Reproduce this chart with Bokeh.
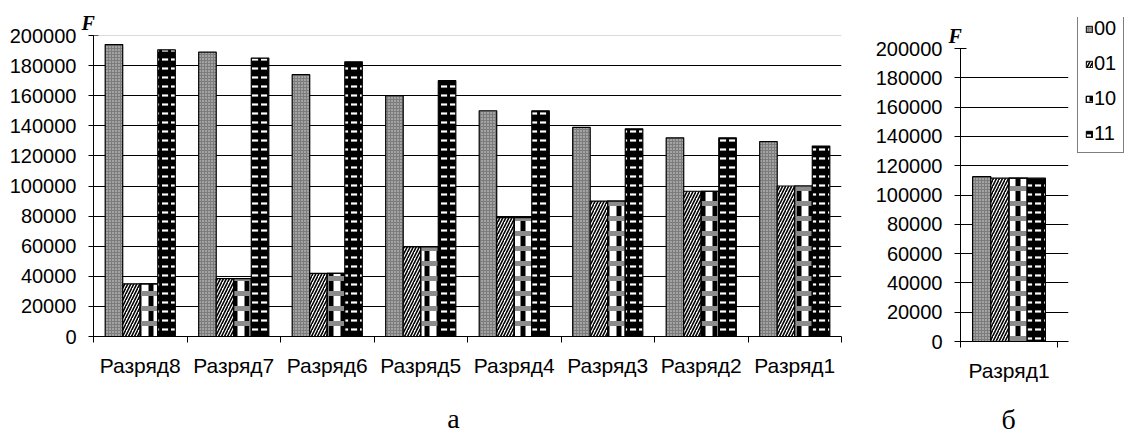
from bokeh.plotting import figure
from bokeh.models import (FixedTicker, Range1d, Legend, LegendItem, Span, Title,
                          NumeralTickFormatter)
from bokeh.core.properties import value
from bokeh.embed import file_html
from bokeh.resources import INLINE

# ---------------- data ----------------
categories = ["Разряд8", "Разряд7", "Разряд6", "Разряд5",
              "Разряд4", "Разряд3", "Разряд2", "Разряд1"]
series_names = ["00", "01", "10", "11"]
s00 = [194000, 189000, 174000, 160000, 150000, 139000, 132000, 129500]
s01 = [35000, 38500, 42000, 59500, 79000, 90000, 96500, 100000]
s10 = [35000, 38500, 42000, 59500, 79000, 90000, 96500, 100000]
s11 = [190500, 185000, 182500, 170000, 150000, 138000, 132000, 126500]

right_categories = ["Разряд1"]
r00 = [112500]
r01 = [111500]
r10 = [111500]
r11 = [111500]

y_ticks = [0, 20000, 40000, 60000, 80000, 100000, 120000, 140000, 160000, 180000, 200000]

# ---------------- styles ----------------
FONT = "Liberation Sans"
SERIF = "Liberation Serif"
BW = 0.1875
OFFS = [-1.5 * BW, -0.5 * BW, 0.5 * BW, 1.5 * BW]

STYLES = {
    "00": [dict(fill_color="#7c7c7c", hatch_pattern="dot", hatch_color="#dddddd",
                hatch_scale=3, hatch_weight=1)],
    "01": [dict(fill_color="white", hatch_pattern="right_diagonal_line", hatch_color="black",
                hatch_scale=6, hatch_weight=1.6)],
    "10": [dict(fill_color="white", hatch_pattern="vertical_line", hatch_color="black",
                hatch_scale=12, hatch_weight=5),
           dict(fill_color=None, hatch_pattern="horizontal_line", hatch_color="#8c8c8c",
                hatch_scale=15, hatch_weight=5)],
    "11": [dict(fill_color="black", hatch_pattern="horizontal_dash", hatch_color="white",
                hatch_scale=9, hatch_weight=2.2)],
}


def draw_bars(p, cats, values, lw=1.2):
    items = []
    for k, (name, vals) in enumerate(zip(series_names, values)):
        xs = [i + 0.5 + OFFS[k] for i in range(len(cats))]
        rs = []
        for st in STYLES[name]:
            r = p.vbar(x=xs, top=vals, bottom=0, width=BW, line_color="black",
                       line_width=lw, **st)
            rs.append(r)
        items.append(LegendItem(label=name, renderers=rs))
    return items


def style_fig(p, cats, tick_len, xstand, ystand):
    n = len(cats)
    p.outline_line_color = None
    p.background_fill_color = "white"
    p.border_fill_color = "white"
    p.xgrid.grid_line_color = None
    p.ygrid.ticker = FixedTicker(ticks=y_ticks[1:-1])
    p.ygrid.grid_line_color = "black"
    p.ygrid.grid_line_width = 1

    xa = p.xaxis[0]
    xa.ticker = FixedTicker(ticks=[i + 0.5 for i in range(n)],
                            minor_ticks=list(range(n + 1)))
    xa.major_label_overrides = {i + 0.5: c for i, c in enumerate(cats)}
    xa.major_tick_out = 0
    xa.major_tick_in = 0
    xa.minor_tick_out = 6
    xa.minor_tick_in = 0
    xa.minor_tick_line_color = "black"
    xa.axis_line_color = "black"
    xa.major_label_standoff = xstand
    xa.major_label_text_font = FONT
    xa.major_label_text_font_size = "21px"
    xa.major_label_text_color = "black"

    ya = p.yaxis[0]
    ya.ticker = FixedTicker(ticks=y_ticks)
    ya.formatter = NumeralTickFormatter(format="0")
    ya.minor_tick_line_color = None
    ya.major_tick_in = tick_len
    ya.major_tick_out = tick_len
    ya.major_tick_line_color = "black"
    ya.axis_line_color = "black"
    ya.major_label_standoff = ystand
    ya.major_label_text_font = FONT
    ya.major_label_text_font_size = "20px"
    ya.major_label_text_color = "black"


def f_title(offset, standoff):
    return Title(text="F", align="left", offset=offset, standoff=standoff,
                 text_font=SERIF, text_font_size="20px", text_font_style="bold italic",
                 text_color="black")


def place(p, left, top):
    p.styles = {"position": "absolute", "left": f"{left}px", "top": f"{top}px"}


def blank_fig(w, h, xr=(0, 1), yr=(0, 1), transparent=False):
    q = figure(width=w, height=h, output_backend="svg", toolbar_location=None,
               title=None, x_axis_type=None, y_axis_type=None,
               x_range=Range1d(*xr), y_range=Range1d(*yr),
               min_border=0, min_border_left=0, min_border_right=0,
               min_border_top=0, min_border_bottom=0)
    q.outline_line_color = None
    q.xgrid.grid_line_color = None
    q.ygrid.grid_line_color = None
    if transparent:
        q.background_fill_alpha = 0
        q.border_fill_alpha = 0
    else:
        q.background_fill_color = "white"
        q.border_fill_color = "white"
    return q


def caption_fig(txt, left, top, w, h, base):
    q = blank_fig(w, h, xr=(0, w), yr=(0, h), transparent=True)
    q.text(x=[w / 2], y=[base], text=[txt], text_font=value(SERIF),
           text_font_size="28px", text_color="black", text_align="center",
           text_baseline="alphabetic")
    place(q, left, top)
    return q


# ---------------- left chart (а) ----------------
p1 = figure(width=855, height=400, output_backend="svg", toolbar_location=None,
            x_range=Range1d(0, len(categories)), y_range=Range1d(0, 200000),
            title=f_title(-12, 4),
            min_border_left=93, min_border_right=14, min_border_top=35, min_border_bottom=64)
draw_bars(p1, categories, [s00, s01, s10, s11])
style_fig(p1, categories, 5, 11, 12)
p1.add_layout(Span(location=200000, dimension="width", line_color="#b5b5b5", line_width=1))
place(p1, 0, 0)

# ---------------- right chart (б) ----------------
p2 = figure(width=222, height=400, output_backend="svg", toolbar_location=None,
            x_range=Range1d(0, 1.113), y_range=Range1d(0, 200000),
            title=f_title(-12, 4),
            min_border_left=105, min_border_right=9, min_border_top=48, min_border_bottom=59)
draw_bars(p2, right_categories, [r00, r01, r10, r11])
style_fig(p2, right_categories, 6, 11, 12)
place(p2, 855, 0)

# ---------------- legend box (its own small canvas; bars lie outside its view) ----------------
p3 = blank_fig(50, 136, xr=(50, 51), yr=(0, 1))
legend_items = draw_bars(p3, right_categories, [r00, r01, r10, r11], lw=1)
legend = Legend(items=legend_items, location=(0, 0))
legend.border_line_color = "black"
legend.border_line_width = 1
legend.background_fill_color = "white"
legend.background_fill_alpha = 1
legend.margin = 0
legend.padding = 7
legend.spacing = 12
legend.label_height = 21
legend.glyph_height = 8
legend.glyph_width = 8
legend.label_standoff = 1
legend.label_text_font = FONT
legend.label_text_font_size = "20px"
legend.label_text_color = "black"
p3.add_layout(legend)
place(p3, 1077, 17)

# ---------------- captions ----------------
p4 = caption_fig("а", 423, 374, 60, 60, 16)
p5 = caption_fig("б", 978, 374, 60, 60, 15)

open("out.html", "w").write(file_html([p1, p2, p3, p4, p5], INLINE))
